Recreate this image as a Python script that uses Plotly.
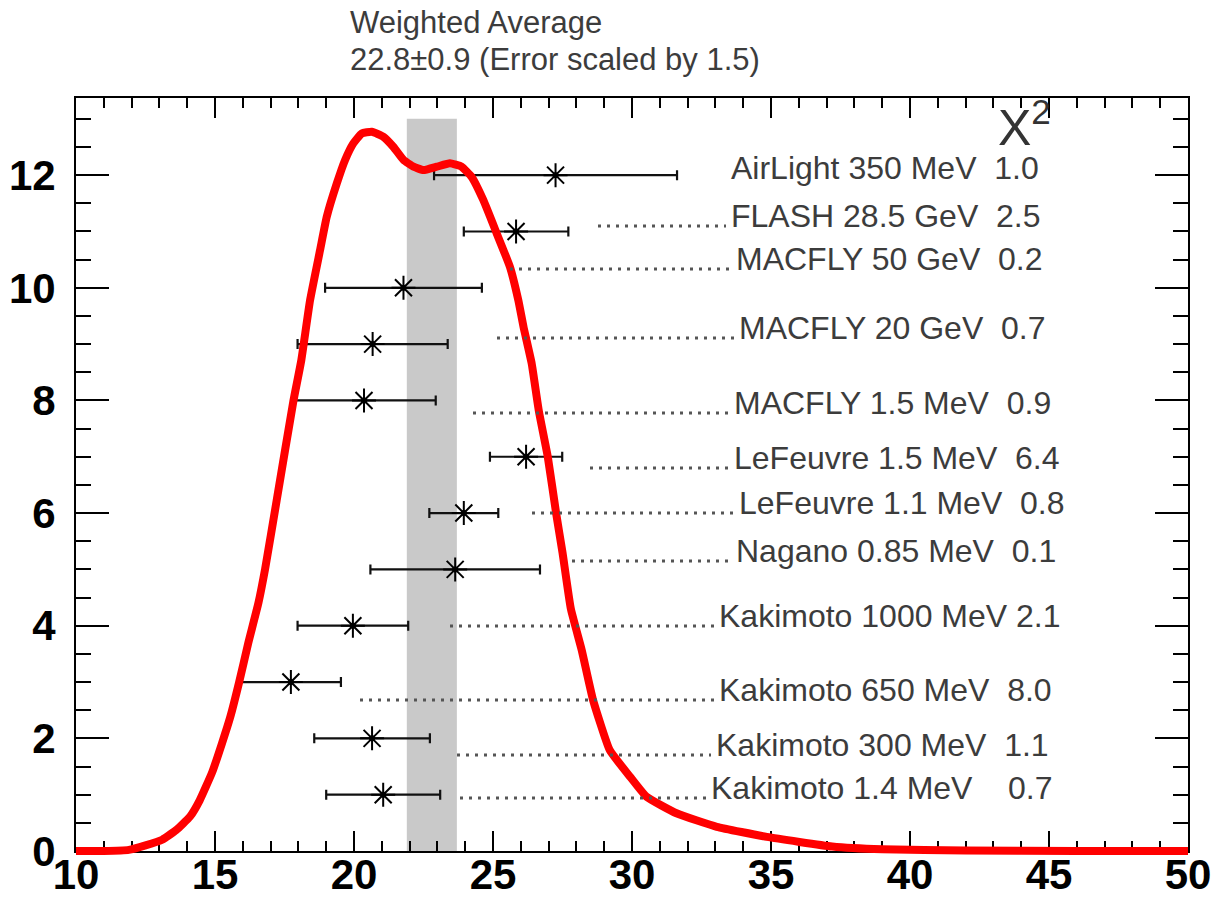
import plotly.graph_objects as go

# ---------------- data ----------------
names = ["AirLight 350 MeV", "FLASH 28.5 GeV", "MACFLY 50 GeV", "MACFLY 20 GeV",
         "MACFLY 1.5 MeV", "LeFeuvre 1.5 MeV", "LeFeuvre 1.1 MeV", "Nagano 0.85 MeV",
         "Kakimoto 1000 MeV", "Kakimoto 650 MeV", "Kakimoto 300 MeV", "Kakimoto 1.4 MeV"]
chi2 = ["1.0", "2.5", "0.2", "0.7", "0.9", "6.4", "0.8", "0.1", "2.1", "8.0", "1.1", "0.7"]
name_gap = ["  ", "  ", "  ", "  ", "  ", "  ", "  ", "  ", " ", "  ", "  ", "    "]
y_pos = [12, 11, 10, 9, 8, 7, 6, 5, 4, 3, 2, 1]
x_val = [27.25, 25.83, 21.78, 20.67, 20.36, 26.19, 23.95, 23.64, 19.96, 17.73, 20.65, 21.05]
x_err = [4.37, 1.88, 2.82, 2.70, 2.58, 1.30, 1.24, 3.05, 1.99, 1.80, 2.08, 2.05]
avg_value = 22.8
avg_error = 0.9
band_top = 13.0

curve_x = [10, 11, 11.9, 12.5, 13.1, 13.6, 14.1, 14.45, 14.9, 15.25, 15.55, 15.87, 16.2,
           16.56, 16.8, 17.22, 17.82, 18.1, 18.42, 18.78, 19.02, 19.38, 19.68, 19.97, 20.28,
           20.64, 21.06, 21.42, 21.78, 22.14, 22.5, 22.98, 23.45, 23.87, 24.23, 24.65, 25.13,
           25.61, 25.91, 26.1, 26.39, 26.65, 26.97, 27.27, 27.5, 27.8, 28.19, 28.6, 29.2,
           29.93, 30.53, 31.6, 33.05, 34.85, 37.2, 39, 42, 46, 50]
curve_y = [0, 0, 0.02, 0.1, 0.2, 0.37, 0.61, 0.9, 1.4, 1.91, 2.38, 3.0, 3.7,
           4.4, 5.0, 6.23, 7.99, 8.7, 9.78, 10.67, 11.26, 11.85, 12.27, 12.56, 12.74,
           12.77, 12.68, 12.5, 12.27, 12.15, 12.09, 12.15, 12.21, 12.15, 11.97, 11.56, 10.97,
           10.37, 9.78, 9.3, 8.66, 7.81, 7.0, 6.0, 5.3, 4.3, 3.57, 2.68, 1.79,
           1.32, 0.96, 0.67, 0.43, 0.25, 0.08, 0.03, 0.01, 0, 0]

x_ticks = [10, 15, 20, 25, 30, 35, 40, 45, 50]
y_ticks = [0, 2, 4, 6, 8, 10, 12]

# ---------------- layout geometry (pixels) ----------------
W, H = 1217, 899
ML, MR, MT, MB = 76, 29, 98, 40
EXTRA = 8                      # curve panel extends below the frame
XMIN, XMAX = 10, 50
YMAX = 13.37
plot_h = H - MT - MB            # 761
frame_h = plot_h - EXTRA        # 753
ppu_y = frame_h / YMAX
y2_lo = YMAX - plot_h / ppu_y
ppu_x = (W - ML - MR) / (XMAX - XMIN)


def px2x(px):
    return XMIN + (px - ML) / ppu_x


def py2y(py):
    return (MT + frame_h - py) / ppu_y


def py2paper(py):
    return (H - MB - py) / plot_h


# label placement: name start px, text centre py, leader start px (None = no leader)
label_left = [730, 730, 735, 738, 733, 733, 738, 735, 718, 718, 715, 710]
label_mid = [168, 216, 259, 328, 403, 458, 503, 551, 616, 690, 745, 788]
leader_from = [None, 598, 510, 497, 473, 590, 532, 572, 450, 360, 457, 460]

TEXT_FONT = "Liberation Sans, Arial, sans-serif"
TEXT_COL = "#3c3c3c"

fig = go.Figure()

# data points with error bars
fig.add_trace(go.Scatter(
    x=x_val, y=y_pos, mode="markers",
    marker=dict(symbol="asterisk-open", size=20, color="black",
                line=dict(width=2, color="black")),
    error_x=dict(type="data", array=x_err, thickness=2.2, width=5, color="#111111"),
    xaxis="x", yaxis="y", hoverinfo="x+y"))
fig.add_trace(go.Scatter(
    x=x_val, y=y_pos, mode="markers",
    marker=dict(symbol="circle", size=6, color="black"),
    xaxis="x", yaxis="y", hoverinfo="skip"))

# ideogram curve (own panel so that the thick line is not clipped at y=0)
fig.add_trace(go.Scatter(
    x=curve_x, y=curve_y, mode="lines",
    line=dict(color="#ff0000", width=8, shape="spline", smoothing=0.4),
    xaxis="x2", yaxis="y2", hoverinfo="x+y"))

shapes = [dict(type="rect", xref="x", yref="y",
               x0=avg_value - avg_error, x1=avg_value + avg_error, y0=0, y1=band_top,
               fillcolor="#c9c9c9", line=dict(width=0), layer="below")]

annotations = []
for i, nm in enumerate(names):
    txt = nm + name_gap[i].replace(" ", "\u00a0") + chi2[i]
    annotations.append(dict(
        xref="x", yref="y", x=px2x(label_left[i]), y=py2y(label_mid[i]),
        xanchor="left", yanchor="middle", showarrow=False, text=txt,
        font=dict(family=TEXT_FONT, size=32, color=TEXT_COL), borderpad=0))
    if leader_from[i] is not None:
        yb = py2y(label_mid[i] + 10)
        shapes.append(dict(type="line", xref="x", yref="y",
                           x0=px2x(leader_from[i]), x1=px2x(label_left[i] - 4),
                           y0=yb, y1=yb,
                           line=dict(color="#555555", width=3, dash="3px,6px")))

annotations.append(dict(
    xref="paper", yref="paper", x=(348 - ML) / (W - ML - MR), y=py2paper(22),
    xanchor="left", yanchor="middle", showarrow=False, text="Weighted Average",
    font=dict(family=TEXT_FONT, size=31, color=TEXT_COL)))
annotations.append(dict(
    xref="paper", yref="paper", x=(348 - ML) / (W - ML - MR), y=py2paper(60),
    xanchor="left", yanchor="middle", showarrow=False,
    text=f"{avg_value}\u00b1{avg_error} (Error scaled by 1.5)",
    font=dict(family=TEXT_FONT, size=31, color=TEXT_COL)))
annotations.append(dict(
    xref="x", yref="y", x=px2x(996), y=py2y(124),
    xanchor="left", yanchor="middle", showarrow=False, text="X<sup>2</sup>",
    font=dict(family=TEXT_FONT, size=50, color="#333333")))

tickfont = dict(family=TEXT_FONT, size=42, color="black", weight="bold")

fig.update_layout(
    width=W, height=H,
    margin=dict(l=ML, r=MR, t=MT, b=MB, pad=0, autoexpand=False),
    paper_bgcolor="white", plot_bgcolor="rgba(0,0,0,0)",
    showlegend=False,
    shapes=shapes, annotations=annotations,
    xaxis=dict(range=[XMIN, XMAX], domain=[0, 1], anchor="y", automargin=False,
               tickvals=x_ticks, ticktext=[str(v) for v in x_ticks],
               ticks="inside", ticklen=20, tickwidth=2, tickcolor="black",
               minor=dict(ticks="inside", ticklen=10, dtick=1, tick0=10,
                          tickwidth=1.5, tickcolor="black"),
               showline=True, linecolor="black", linewidth=2, mirror="ticks",
               showgrid=False, zeroline=False, tickfont=tickfont,
               ticklabelstandoff=-14),
    yaxis=dict(range=[0, YMAX], domain=[EXTRA / plot_h, 1], anchor="x", automargin=False,
               tickvals=y_ticks, ticktext=[str(v) for v in y_ticks],
               ticks="inside", ticklen=33, tickwidth=2, tickcolor="black",
               minor=dict(ticks="inside", ticklen=15, dtick=0.5, tick0=0,
                          tickwidth=1.5, tickcolor="black"),
               showline=True, linecolor="black", linewidth=2, mirror="ticks",
               showgrid=False, zeroline=False, tickfont=tickfont,
               ticklabelstandoff=10),
    xaxis2=dict(range=[XMIN, XMAX], domain=[0, 1], anchor="y2", visible=False,
                automargin=False, showgrid=False, zeroline=False),
    yaxis2=dict(range=[y2_lo, YMAX], domain=[0, 1], anchor="x2", visible=False,
                automargin=False, showgrid=False, zeroline=False),
)

fig.write_html("out.html",
               config={"displayModeBar": False},
               post_script="document.body.style.margin='0px';"
                           "document.body.style.overflow='hidden';")
